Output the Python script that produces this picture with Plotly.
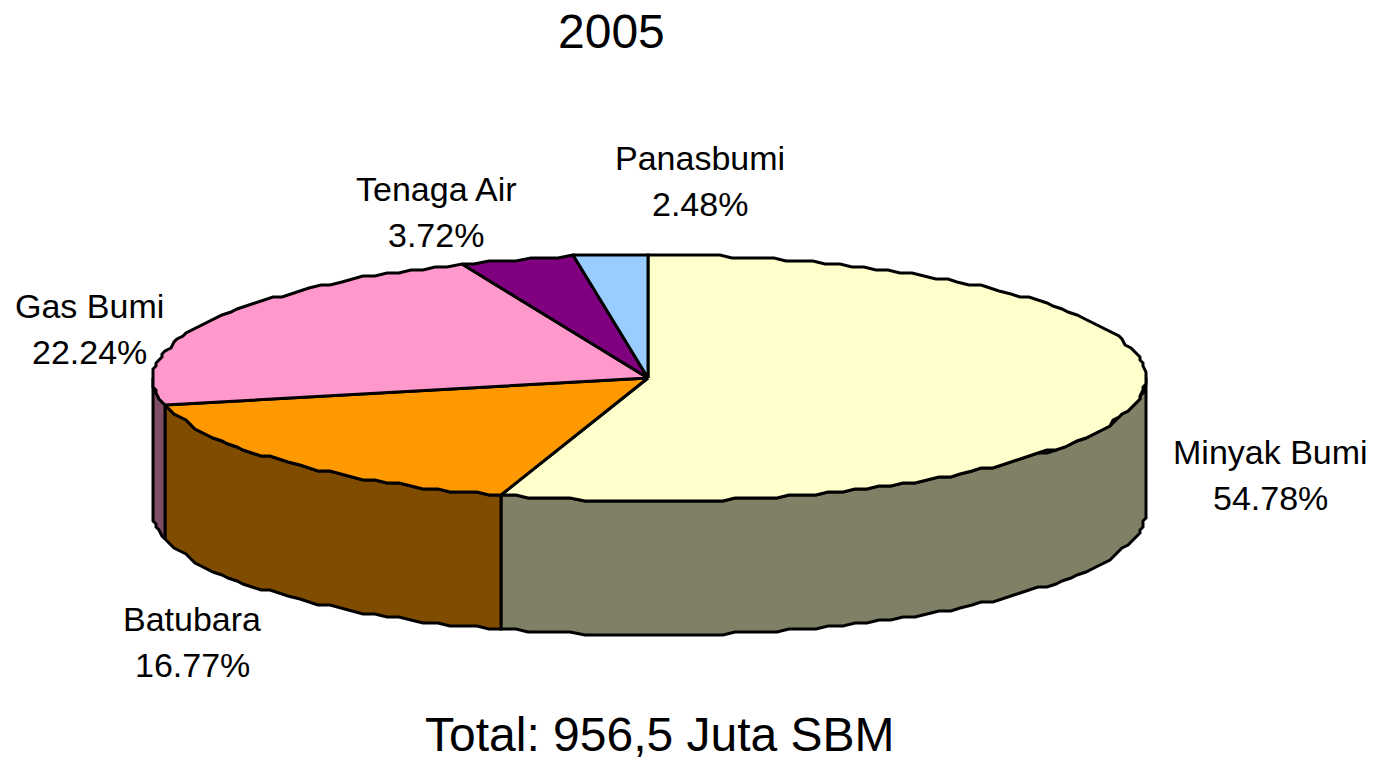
import math

import plotly.graph_objects as go

# ---------------------------------------------------------------------------
# DATA
# ---------------------------------------------------------------------------
TITLE = "2005"
FOOTER = "Total: 956,5 Juta SBM"
CATEGORIES = ["Minyak Bumi", "Batubara", "Gas Bumi", "Tenaga Air", "Panasbumi"]
SHARES = [54.78, 16.77, 22.24, 3.72, 2.48]
TOP_COLORS = ["#FFFFCC", "#FF9900", "#FF99CC", "#800080", "#99CCFF"]
SIDE_COLORS = ["#808066", "#804D00", "#804D66", "#400040", "#4D6680"]

# label anchor (centre of the name line, centre of the value line)
LABEL_POS = [(1270, 452, 498), (192, 619, 665), (89, 306, 352), (436, 189, 235), (700, 158, 204)]

# ---------------------------------------------------------------------------
# PIE GEOMETRY (page pixels)
# ---------------------------------------------------------------------------
CX, CY = 648, 378
RIM_CX = 649.5  # the outline sits a touch right of the hub in the source
RX, RY = 496.5, 123
DEPTH = 134
STEP_DEG = 1.6
GRID = 3
EDGE = dict(color="black", width=3)


def rim(theta):
    """Point on the pie edge, theta in degrees clockwise from 12 o'clock."""
    x = RIM_CX + RX * math.sin(math.radians(theta))
    y = CY - RY * math.cos(math.radians(theta))
    # the source chart has a rough, stepped outline
    return round(x / GRID) * GRID, round(y / GRID) * GRID


def arc(start, end):
    n = max(2, int((end - start) / STEP_DEG))
    return [rim(start + (end - start) * i / n) for i in range(n + 1)]


fig = go.Figure()

total = sum(SHARES)
start = 0.0
wedges = []
for name, share, top, side in zip(CATEGORIES, SHARES, TOP_COLORS, SIDE_COLORS):
    end = start + share / total * 360
    wedges.append((name, start, end, top, side))
    start = end

# -- side walls first, only the front half of the pie shows ------------------
for name, a, b, top, side in wedges:
    lo, hi = max(a, 90), min(b, 270)
    if lo >= hi:
        continue
    pts = arc(lo, hi)
    xs = [p[0] for p in pts] + [p[0] for p in reversed(pts)]
    ys = [p[1] for p in pts] + [p[1] + DEPTH for p in reversed(pts)]
    fig.add_trace(go.Scatter(
        x=xs + xs[:1], y=ys + ys[:1], mode="lines", fill="toself",
        fillcolor=side, line=EDGE, name=name, hoverinfo="name",
    ))

# -- top faces --------------------------------------------------------------
for name, a, b, top, side in wedges:
    pts = arc(a, b)
    xs = [CX] + [p[0] for p in pts] + [CX]
    ys = [CY] + [p[1] for p in pts] + [CY]
    fig.add_trace(go.Scatter(
        x=xs, y=ys, mode="lines", fill="toself",
        fillcolor=top, line=EDGE, name=name, hoverinfo="name",
    ))

# -- text -------------------------------------------------------------------
annotations = [
    dict(x=611, y=31, text=TITLE, font_size=48),
    dict(x=660, y=734, text=FOOTER, font_size=48),
]
for name, share, (lx, ny, vy) in zip(CATEGORIES, SHARES, LABEL_POS):
    annotations.append(dict(x=lx, y=ny, text=name, font_size=34))
    annotations.append(dict(x=lx, y=vy, text=f"{share:.2f}%", font_size=34))
for a in annotations:
    a.update(xref="x", yref="y", showarrow=False, xanchor="center", yanchor="middle")
    a["font"] = dict(size=a.pop("font_size"), color="black", family="Liberation Sans")

fig.update_layout(
    width=1376,
    height=762,
    margin=dict(l=0, r=0, t=0, b=0),
    paper_bgcolor="white",
    plot_bgcolor="white",
    showlegend=False,
    annotations=annotations,
    xaxis=dict(range=[0, 1376], visible=False, fixedrange=True),
    yaxis=dict(range=[762, 0], visible=False, fixedrange=True),
)

# page body has a default margin, drop it so the figure sits at 0,0
fig.write_html(
    "out.html",
    config={"displayModeBar": False},
    post_script="document.body.style.margin='0';",
)
